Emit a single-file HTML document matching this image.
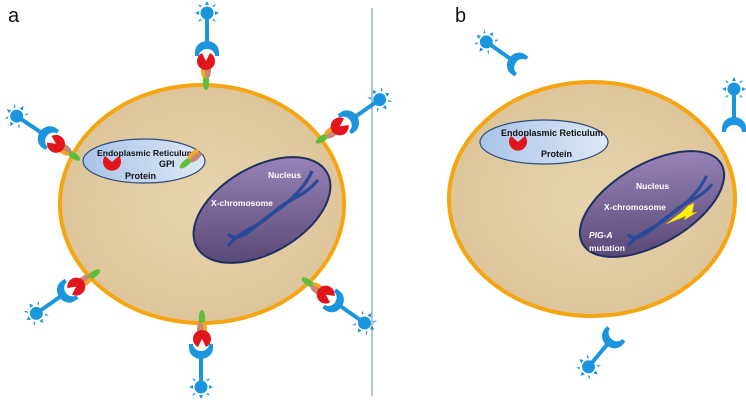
<!DOCTYPE html>
<html><head><meta charset="utf-8"><style>html,body{margin:0;padding:0;background:#fff}svg{display:block}</style></head><body>
<svg width="746" height="402" viewBox="0 0 746 402" xmlns="http://www.w3.org/2000/svg" font-family="Liberation Sans, sans-serif">
<defs>
<radialGradient id="cyt" cx="50%" cy="50%" r="60%"><stop offset="0" stop-color="#e6d4ac"/><stop offset="1" stop-color="#dcc398"/></radialGradient>
<linearGradient id="er" x1="0" x2="1"><stop offset="0" stop-color="#a9c4e8"/><stop offset="1" stop-color="#dde8f6"/></linearGradient>
<linearGradient id="nuc" x1="0" y1="1" x2="1" y2="0"><stop offset="0" stop-color="#4d3d6a"/><stop offset="1" stop-color="#a48fc4"/></linearGradient>
<g id="ab">
<path d="M-12,4 A12,11 0 0 1 12,4 L12,8 L8,8 A8,7 0 0 0 -8,8 L-12,8 Z" fill="#1b96de"/>
<rect x="-2" y="-30" width="4" height="24" fill="#1b96de"/>
<circle cx="0" cy="-35" r="6.5" fill="#1b96de"/>
<g fill="#1b96de">
<path d="M-2,-43 L0,-47 L2,-43Z"/>
<path d="M-8,-37 L-12,-35 L-8,-33Z"/><path d="M8,-37 L12,-35 L8,-33Z"/>
<path d="M-7,-41 L-9,-44 L-5,-42Z"/><path d="M7,-41 L9,-44 L5,-42Z"/>
<path d="M-7,-29 L-9,-26 L-5,-28Z"/><path d="M7,-29 L9,-26 L5,-28Z"/>
</g>
</g>
<g id="cx">
<ellipse cx="0" cy="-8" rx="3.2" ry="8" fill="#5fbf3c"/>
<ellipse cx="-2" cy="-19" rx="3" ry="7" fill="#f5a623"/>
<ellipse cx="2" cy="-19" rx="3" ry="7" fill="#c98577"/>
<path d="M0,-29 L-4,-37 A9,9 0 1 0 4,-37 Z" fill="#e3151c"/>
<use href="#ab" transform="translate(1,-42)"/>
</g>
<g id="dna" fill="none" stroke="#2a4a9a" stroke-width="2.2">
<path d="M-30,22 C-20,10 -10,10 0,0 S 20,-10 30,-22"/>
<path d="M-30,14 C-22,22 -10,6 0,0 S 22,-18 26,-28"/>
</g>
</defs>
<text x="8" y="22" font-size="20" fill="#111">a</text>
<text x="455" y="22" font-size="20" fill="#111">b</text>
<line x1="372" y1="8" x2="372" y2="396" stroke="#9ab0c8" stroke-width="1.5"/>

<ellipse cx="202" cy="204" rx="142" ry="119" fill="url(#cyt)" stroke="#f5a50f" stroke-width="4"/>
<ellipse cx="144" cy="161" rx="61" ry="22" fill="url(#er)" stroke="#2d4a7a" stroke-width="1.2"/>
<text x="97" y="156" font-size="8.6" font-weight="bold" fill="#111">Endoplasmic Reticulum</text>
<text x="159" y="167" font-size="9" font-weight="bold" fill="#111">GPI</text>
<text x="125" y="179" font-size="9" font-weight="bold" fill="#111">Protein</text>
<path d="M112,162 L105,156 A9,9 0 1 0 119,156 Z" fill="#e3151c"/>
<g transform="translate(180,168) rotate(50)">
<ellipse cx="0" cy="-8" rx="3" ry="8" fill="#5fbf3c"/>
<ellipse cx="-2" cy="-19" rx="3" ry="7" fill="#f5a623"/>
<ellipse cx="2" cy="-19" rx="3" ry="7" fill="#c98577"/>
</g>
<ellipse cx="262" cy="210" rx="75" ry="43" transform="rotate(-30 262 210)" fill="url(#nuc)" stroke="#1f2f60" stroke-width="2"/>
<text x="268" y="178" font-size="8.5" font-weight="bold" fill="#fff">Nucleus</text>
<text x="211" y="206" font-size="8.5" font-weight="bold" fill="#fff">X-chromosome</text>
<use href="#dna" transform="translate(273,213) scale(1.5)"/>

<use href="#cx" transform="translate(206,90)"/>
<use href="#cx" transform="translate(80,160) rotate(-56)"/>
<use href="#cx" transform="translate(316,143) rotate(55)"/>
<use href="#cx" transform="translate(100,270) rotate(-125)"/>
<use href="#cx" transform="translate(202,310) rotate(180)"/>
<use href="#cx" transform="translate(302,278) rotate(125)"/>

<ellipse cx="592" cy="199" rx="143" ry="117" fill="url(#cyt)" stroke="#f5a50f" stroke-width="4"/>
<ellipse cx="544" cy="142" rx="64" ry="22" fill="url(#er)" stroke="#2d4a7a" stroke-width="1.2"/>
<text x="501" y="136" font-size="9" font-weight="bold" fill="#111">Endoplasmic Reticulum</text>
<text x="541" y="157" font-size="9" font-weight="bold" fill="#111">Protein</text>
<path d="M518,142 L511,136 A9,9 0 1 0 525,136 Z" fill="#e3151c"/>
<ellipse cx="652" cy="204" rx="80" ry="40" transform="rotate(-30 652 204)" fill="url(#nuc)" stroke="#1f2f60" stroke-width="2"/>
<text x="636" y="189" font-size="8.5" font-weight="bold" fill="#fff">Nucleus</text>
<text x="604" y="210" font-size="8.5" font-weight="bold" fill="#fff">X-chromosome</text>
<text x="589" y="238" font-size="8.5" font-weight="bold" font-style="italic" fill="#fff">PIG-A</text>
<text x="589" y="251" font-size="8.5" font-weight="bold" fill="#fff">mutation</text>
<use href="#dna" transform="translate(670,215) scale(1.4)"/>
<path d="M666,224 L682,212 L688,206 L694,203 L692,213 L697,212 L684,220 L686,216 Z" fill="#fff200" stroke="#f0c000" stroke-width="0.5"/>

<use href="#ab" transform="translate(515,62) rotate(-55)"/>
<use href="#ab" transform="translate(734,124)"/>
<use href="#ab" transform="translate(611,340) rotate(-140)"/>
</svg>
</body></html>
